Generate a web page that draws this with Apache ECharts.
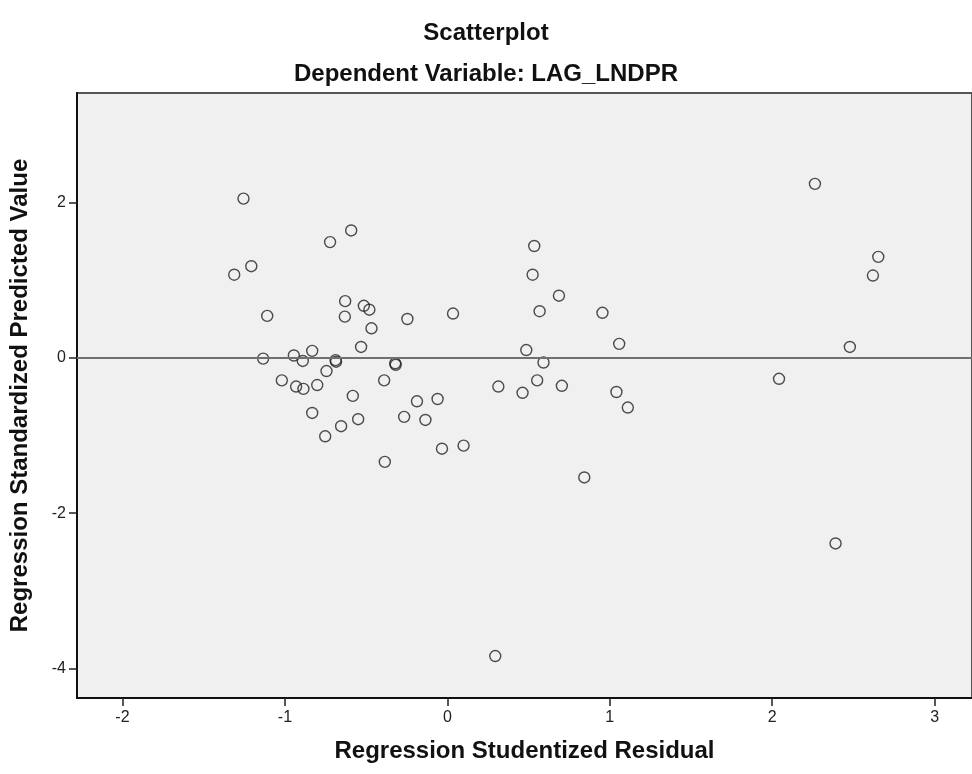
<!DOCTYPE html>
<html>
<head>
<meta charset="utf-8">
<title>Scatterplot</title>
<script src="https://cdn.jsdelivr.net/npm/echarts@6/dist/echarts.min.js"></script>
<style>
  html, body { margin: 0; padding: 0; background: #ffffff; }
  #myChart { width: 972px; height: 774px; }
</style>
</head>
<body>
<div id="myChart"></div>
<script>
// studentized residual (x) and standardized predicted value (y)
const residuals = [
  -1.255, -0.592, -0.722, -1.207, -1.312, -0.629, -0.514, -0.480, -0.631, -1.109,
  -0.467, -0.246, 0.035, -0.531, -1.134, -0.945, -0.890, -0.832, -0.688, -0.685,
  -0.744, -0.321, -0.318, -1.019, -0.931, -0.886, -0.801, -0.389, -0.582, -0.832,
  -0.549, -0.654, -0.752, -0.385, -0.187, -0.060, -0.266, -0.135, -0.033, 0.100,
  0.295, 0.535, 0.525, 0.687, 0.568, 0.955, 1.058, 0.486, 0.592, 0.553,
  0.314, 0.463, 0.705, 1.041, 1.111, 0.843, 2.263, 2.653, 2.620, 2.478,
  2.042, 2.390
]
const predicted = [
  2.05, 1.64, 1.49, 1.18, 1.07, 0.73, 0.67, 0.62, 0.53, 0.54,
  0.38, 0.50, 0.57, 0.14, -0.01, 0.03, -0.04, 0.09, -0.03, -0.05,
  -0.17, -0.07, -0.09, -0.29, -0.37, -0.40, -0.35, -0.29, -0.49, -0.71,
  -0.79, -0.88, -1.01, -1.34, -0.56, -0.53, -0.76, -0.80, -1.17, -1.13,
  -3.84, 1.44, 1.07, 0.80, 0.60, 0.58, 0.18, 0.10, -0.06, -0.29,
  -0.37, -0.45, -0.36, -0.44, -0.64, -1.54, 2.24, 1.30, 1.06, 0.14,
  -0.27, -2.39
]
const xTicks = [-2, -1, 0, 1, 2, 3]
const yTicks = [-4, -2, 0, 2]

const points = residuals.map((x, i) => [x, predicted[i]])

const fontFamily = '"Liberation Sans", Arial, sans-serif'

let myChart = echarts.init(document.getElementById('myChart'))
myChart.setOption({
  backgroundColor: '#ffffff',
  animation: false,
  title: [
    {
      text: 'Scatterplot',
      left: 'center',
      top: 16,
      textStyle: { fontFamily, fontSize: 24, fontWeight: 'bold', color: '#111' }
    },
    {
      text: 'Dependent Variable: LAG_LNDPR',
      left: 'center',
      top: 57,
      textStyle: { fontFamily, fontSize: 24, fontWeight: 'bold', color: '#111' }
    }
  ],
  grid: {
    left: 77,
    right: -2,
    top: 93,
    bottom: 76,
    show: true,
    backgroundColor: '#f0f0f0',
    borderColor: '#555',
    borderWidth: 2
  },
  xAxis: {
    type: 'value',
    min: -2.28,
    max: 3.23,
    name: 'Regression Studentized Residual',
    nameLocation: 'middle',
    nameGap: 41,
    nameTextStyle: { fontFamily, fontSize: 24, fontWeight: 'bold', color: '#111' },
    splitLine: { show: false },
    axisLine: { show: true, onZero: false, lineStyle: { color: '#111', width: 2 } },
    axisTick: { show: true, length: 8, customValues: xTicks, lineStyle: { color: '#222', width: 1.5 } },
    axisLabel: { customValues: xTicks, margin: 12, fontFamily, fontSize: 16, color: '#222' }
  },
  yAxis: {
    type: 'value',
    min: -4.38,
    max: 3.41,
    name: 'Regression Standardized Predicted Value',
    nameLocation: 'middle',
    nameGap: 45,
    nameTextStyle: { fontFamily, fontSize: 24, fontWeight: 'bold', color: '#111' },
    splitLine: { show: false },
    axisLine: { show: true, onZero: false, lineStyle: { color: '#111', width: 2 } },
    axisTick: { show: true, length: 8, customValues: yTicks, lineStyle: { color: '#222', width: 1.5 } },
    axisLabel: { customValues: yTicks, margin: 11, fontFamily, fontSize: 16, color: '#222' }
  },
  series: [
    {
      type: 'scatter',
      data: points,
      symbol: 'circle',
      symbolSize: 11,
      itemStyle: { color: 'rgba(0,0,0,0)', borderColor: '#222', borderWidth: 1.4 },
      markLine: {
        silent: true,
        symbol: 'none',
        label: { show: false },
        lineStyle: { color: '#707070', width: 2, type: 'solid' },
        data: [{ yAxis: 0 }]
      },
      z: 3
    }
  ]
})
</script>
</body>
</html>
